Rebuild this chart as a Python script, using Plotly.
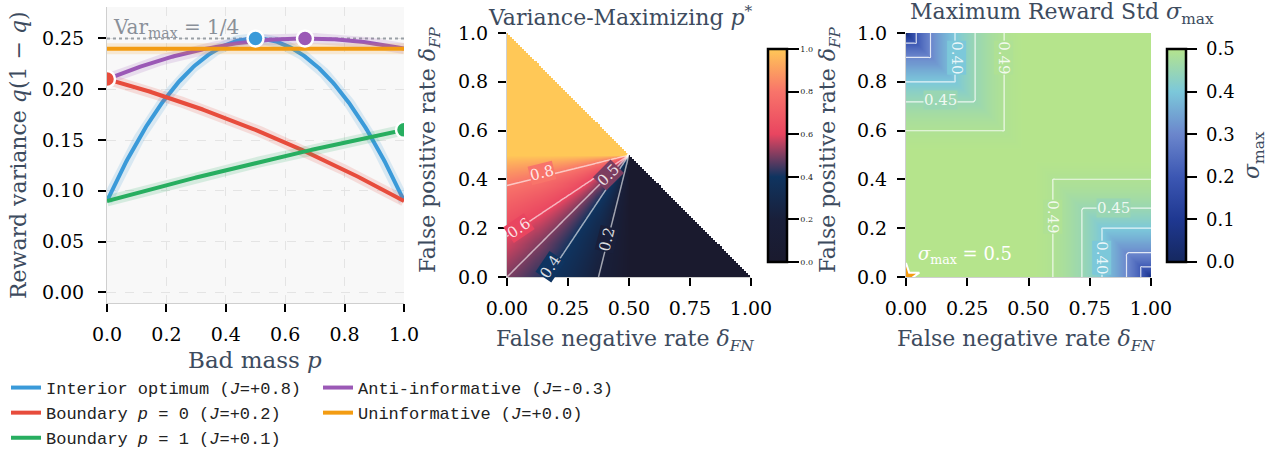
import numpy as np
import plotly.graph_objects as go
from plotly.colors import find_intermediate_color, hex_to_rgb, label_rgb

# ---------------- data ----------------
scenario_names = ["Interior optimum", "Boundary <i>p</i> = 0", "Boundary <i>p</i> = 1",
                  "Anti-informative", "Uninformative"]
scenario_J_text = ["+0.8", "+0.2", "+0.1", "-0.3", "+0.0"]
delta_fn = [0.1, 0.7, 0.1, 0.7, 0.4]   # false negative rate per scenario
delta_fp = [0.1, 0.1, 0.8, 0.6, 0.6]   # false positive rate per scenario
scenario_colors = ["#3a9ad9", "#e74c3c", "#27ae60", "#9b59b6", "#f39c12"]
scenario_legend = ["legend", "legend", "legend", "legend2", "legend2"]
show_optimum = [True, True, True, True, False]
var_max = 0.25

p_grid = np.linspace(0, 1, 201)          # bad mass p
rate_grid = np.linspace(0, 1, 121)       # delta_FN / delta_FP grid

pstar_levels = [0.2, 0.4, 0.5, 0.6, 0.8]
pstar_label_x = [0.408, 0.176, 0.415, 0.05, 0.142]
pstar_label_y = [0.153, 0.043, 0.42, 0.2, 0.426]
pstar_label_angle = [-76, -56, -45, -34, -14]

sigma_levels = [0.2, 0.3, 0.40, 0.45, 0.49]
sigma_label_level = [0.40, 0.49, 0.45, 0.49, 0.45, 0.40]
sigma_label_x = [0.205, 0.397, 0.139, 0.597, 0.845, 0.799]
sigma_label_y = [0.90, 0.90, 0.726, 0.248, 0.284, 0.078]
sigma_label_angle = [90, 90, 0, 90, 0, 90]

left_xticks = [0.0, 0.2, 0.4, 0.6, 0.8, 1.0]
left_yticks = [0.00, 0.05, 0.10, 0.15, 0.20, 0.25]
map_xticks = [0.0, 0.25, 0.5, 0.75, 1.0]
map_yticks = [0.0, 0.2, 0.4, 0.6, 0.8, 1.0]
pstar_cbar_ticks = [0.0, 0.2, 0.4, 0.6, 0.8, 1.0]
sigma_cbar_ticks = [0.0, 0.1, 0.2, 0.3, 0.4, 0.5]

pstar_colorscale = [[0.0, "#1a1a2e"], [0.2, "#191f3a"], [0.4, "#0f3460"],
                    [0.6, "#e94560"], [0.8, "#f8746a"], [1.0, "#ffc857"]]
sigma_colorscale = [[0.0, "#15285f"], [0.2, "#1f3891"], [0.4, "#3c57b3"],
                    [0.6, "#6b86cc"], [0.8, "#7cc8da"], [1.0, "#b5e48c"]]

SERIF = "DejaVu Serif"
MONO = "Liberation Mono"
SLATE = "#3d4b5e"
W, H = 1271, 457
NB = "\u00a0"

# ---------------- derived ----------------
def q_of(p, fn, fp):
    return (1 - p) * (1 - fn) + p * fp


def scale_color(cs, t):
    t = min(max(t, 0.0), 1.0)
    for (t0, c0), (t1, c1) in zip(cs[:-1], cs[1:]):
        if t0 <= t <= t1:
            f = 0 if t1 == t0 else (t - t0) / (t1 - t0)
            return label_rgb(find_intermediate_color(hex_to_rgb(c0), hex_to_rgb(c1), f))
    return cs[-1][1]


FN, FP = np.meshgrid(rate_grid, rate_grid)
J = 1 - FN - FP
with np.errstate(divide="ignore", invalid="ignore"):
    pstar = np.clip((0.5 - FN) / J, 0, 1)
pstar = np.where(J > 1e-9, pstar,
                 np.where(np.abs(J) <= 1e-9, np.where(FN < 0.5, 1.0, 0.0), np.nan))

lo = np.minimum(1 - FN, FP)
hi = np.maximum(1 - FN, FP)
m = np.where(lo > 0.5, lo, np.where(hi < 0.5, hi, 0.5))
sigma = np.sqrt(m * (1 - m))

fig = go.Figure()

# ---------------- left panel ----------------
fig.add_trace(go.Scatter(x=[0, 1], y=[var_max, var_max], mode="lines",
                         line=dict(color="#9aa0a6", width=2, dash="dot"),
                         showlegend=False, hoverinfo="skip", xaxis="x", yaxis="y"))

for name, jt, fn, fp, col, lg in zip(scenario_names, scenario_J_text, delta_fn, delta_fp,
                                     scenario_colors, scenario_legend):
    q = q_of(p_grid, fn, fp)
    v = q * (1 - q)
    fig.add_trace(go.Scatter(x=p_grid, y=v, mode="lines", line=dict(color=col, width=11),
                             opacity=0.16, showlegend=False, hoverinfo="skip",
                             xaxis="x", yaxis="y"))
    fig.add_trace(go.Scatter(x=p_grid, y=v, mode="lines", line=dict(color=col, width=4),
                             name=f"{name} (<i>J</i>={jt})", legend=lg,
                             xaxis="x", yaxis="y"))

for fn, fp, col, show in zip(delta_fn, delta_fp, scenario_colors, show_optimum):
    if not show:
        continue
    Jv = 1 - fn - fp
    ps = float(np.clip((0.5 - fn) / Jv, 0, 1))
    qs = q_of(ps, fn, fp)
    fig.add_trace(go.Scatter(x=[ps], y=[qs * (1 - qs)], mode="markers",
                             marker=dict(color=col, size=16, line=dict(color="white", width=2.5)),
                             showlegend=False, xaxis="x", yaxis="y"))

# ---------------- middle panel ----------------
fig.add_trace(go.Heatmap(x=rate_grid, y=rate_grid, z=pstar, zmin=0, zmax=1,
                         colorscale=pstar_colorscale, zsmooth="best",
                         xaxis="x2", yaxis="y2",
                         colorbar=dict(x=758 / W, xanchor="left", xref="paper",
                                       y=1 - 155.5 / H, yanchor="middle", yref="paper",
                                       len=233, lenmode="pixels", thickness=19,
                                       outlinewidth=2.5, outlinecolor="black",
                                       ticks="outside", ticklen=11, tickwidth=2, tickcolor="black",
                                       tickvals=pstar_cbar_ticks,
                                       ticktext=[f"{v:.1f}" for v in pstar_cbar_ticks],
                                       tickfont=dict(family=SERIF, size=8, color="#222"))))
for lv in pstar_levels:
    fig.add_trace(go.Contour(x=rate_grid, y=rate_grid, z=pstar, autocontour=False,
                             contours=dict(start=lv, end=lv, size=1, coloring="none",
                                           showlabels=False),
                             line=dict(color="rgba(255,255,255,0.6)", width=1.5),
                             showscale=False, showlegend=False, hoverinfo="skip",
                             xaxis="x2", yaxis="y2"))

# ---------------- right panel ----------------
fig.add_trace(go.Heatmap(x=rate_grid, y=rate_grid, z=sigma, zmin=0, zmax=0.5,
                         colorscale=sigma_colorscale, zsmooth="best",
                         xaxis="x3", yaxis="y3",
                         colorbar=dict(x=1157 / W, xanchor="left", xref="paper",
                                       y=1 - 155.5 / H, yanchor="middle", yref="paper",
                                       len=233, lenmode="pixels", thickness=19,
                                       outlinewidth=2.5, outlinecolor="black",
                                       ticks="outside", ticklen=10, tickwidth=2, tickcolor="black",
                                       tickvals=sigma_cbar_ticks,
                                       ticktext=[NB + f"{v:.1f}" for v in sigma_cbar_ticks],
                                       tickfont=dict(family=SERIF, size=18, color="black"))))
for lv in sigma_levels:
    fig.add_trace(go.Contour(x=rate_grid, y=rate_grid, z=sigma, autocontour=False,
                             contours=dict(start=lv, end=lv, size=1, coloring="none",
                                           showlabels=False),
                             line=dict(color="rgba(255,255,255,0.8)", width=1.2),
                             showscale=False, showlegend=False, hoverinfo="skip",
                             xaxis="x3", yaxis="y3"))
fig.add_trace(go.Scatter(x=[0], y=[0], mode="markers",
                         marker=dict(symbol="star", size=20, color="#f39c12",
                                     line=dict(color="white", width=2)),
                         showlegend=False, xaxis="x3", yaxis="y3"))

# ---------------- layout ----------------
tick_common = dict(ticks="outside", ticklen=8, tickwidth=2, tickcolor="black",
                   tickfont=dict(family=SERIF, size=19, color="black"),
                   showline=True, linecolor="#cfcfcf", linewidth=1, zeroline=False,
                   automargin=False)

annotations = []
# contour labels (background = colour of the level on the colour scale)
for lv, x, y, ang in zip(pstar_levels, pstar_label_x, pstar_label_y, pstar_label_angle):
    annotations.append(dict(text=f"{lv:.1f}", x=x, y=y, xref="x2", yref="y2", showarrow=False,
                            textangle=ang, bgcolor=scale_color(pstar_colorscale, lv), borderpad=0,
                            font=dict(family=SERIF, size=15, color="rgba(255,255,255,0.85)")))
for lv, x, y, ang in zip(sigma_label_level, sigma_label_x, sigma_label_y, sigma_label_angle):
    annotations.append(dict(text=f"{lv:.2f}", x=x, y=y, xref="x3", yref="y3", showarrow=False,
                            textangle=ang, bgcolor=scale_color(sigma_colorscale, lv / 0.5),
                            borderpad=0,
                            font=dict(family=SERIF, size=15, color="rgba(255,255,255,0.85)")))

def paper_text(text, px, py, size, color=SLATE, angle=0, family=SERIF):
    return dict(text=text, x=px / W, y=1 - py / H, xref="paper", yref="paper",
                xanchor="center", yanchor="middle", showarrow=False, textangle=angle,
                font=dict(family=family, size=size, color=color))

annotations += [
    dict(text="Var<sub>max</sub> = 1/4", x=0.015, y=0.25, xref="x", yref="y",
         xanchor="left", yanchor="bottom", showarrow=False, yshift=-5,
         font=dict(family=SERIF, size=20, color="#8a9099")),
    paper_text("Variance-Maximizing <i>p</i><sup>*</sup>", 620, 16, 22),
    paper_text("Maximum Reward Std <i>σ</i><sub>max</sub>", 1062, 14, 22),
    paper_text("Reward variance <i>q</i>(1 − <i>q</i>)", 18, 155, 22, angle=-90),
    paper_text("Bad mass <i>p</i>", 255, 360, 23),
    paper_text("False negative rate <i>δ</i><sub><i>FN</i></sub>", 625, 340, 22),
    paper_text("False negative rate <i>δ</i><sub><i>FN</i></sub>", 1026, 340, 22),
    paper_text("False positive rate <i>δ</i><sub><i>FP</i></sub>", 430, 150, 22, angle=-90),
    paper_text("False positive rate <i>δ</i><sub><i>FP</i></sub>", 830, 150, 22, angle=-90),
    paper_text("<i>σ</i><sub>max</sub>", 1253, 155, 22, angle=-90),
    dict(text="<i>σ</i><sub>max</sub> = 0.5", x=0.04, y=0.09, xref="x3", yref="y3",
         xanchor="left", yanchor="middle", showarrow=False,
         font=dict(family=SERIF, size=18, color="white")),
]

fig.update_layout(
    width=W, height=H, margin=dict(l=0, r=0, t=0, b=0, autoexpand=False),
    paper_bgcolor="white", plot_bgcolor="white",
    shapes=[dict(type="rect", xref="x domain", yref="y domain", x0=0, x1=1, y0=0, y1=1,
                 fillcolor="#f8f8f8", line=dict(width=0), layer="below")],
    xaxis=dict(domain=[107 / W, 404 / W], range=[0, 1], tickvals=left_xticks,
               ticktext=[f"{v:.1f}" for v in left_xticks], showgrid=True,
               gridcolor="#e4e4e4", griddash="dash", gridwidth=1, anchor="y",
               ticklabelstandoff=6, **tick_common),
    yaxis=dict(domain=[1 - 303 / H, 1 - 7 / H], range=[-0.0105, 0.281], tickvals=left_yticks,
               ticktext=[f"{v:.2f}" for v in left_yticks], showgrid=True,
               gridcolor="#e4e4e4", griddash="dash", gridwidth=1, anchor="x",
               ticklabelstandoff=10, **tick_common),
    xaxis2=dict(domain=[507 / W, 751 / W], range=[0, 1], tickvals=map_xticks,
                ticktext=[f"{v:.2f}" for v in map_xticks], showgrid=False, anchor="y2",
                ticklabelstandoff=6, **tick_common),
    yaxis2=dict(domain=[1 - 277 / H, 1 - 33 / H], range=[0, 1], tickvals=map_yticks,
                ticktext=[f"{v:.1f}" for v in map_yticks], showgrid=False, anchor="x2",
                ticklabelstandoff=6, **tick_common),
    xaxis3=dict(domain=[906 / W, 1151 / W], range=[0, 1], tickvals=map_xticks,
                ticktext=[f"{v:.2f}" for v in map_xticks], showgrid=False, anchor="y3",
                ticklabelstandoff=6, **tick_common),
    yaxis3=dict(domain=[1 - 277 / H, 1 - 33 / H], range=[0, 1], tickvals=map_yticks,
                ticktext=[f"{v:.1f}" for v in map_yticks], showgrid=False, anchor="x3",
                ticklabelstandoff=6, **tick_common),
    legend=dict(x=6 / W, y=1 - 370 / H, xanchor="left", yanchor="top",
                bgcolor="rgba(0,0,0,0)", font=dict(family=MONO, size=17, color="#222"),
                tracegroupgap=0),
    legend2=dict(x=318 / W, y=1 - 370 / H, xanchor="left", yanchor="top",
                 bgcolor="rgba(0,0,0,0)", font=dict(family=MONO, size=17, color="#222"),
                 tracegroupgap=0),
    annotations=annotations,
)

fig.write_html("out.html")
